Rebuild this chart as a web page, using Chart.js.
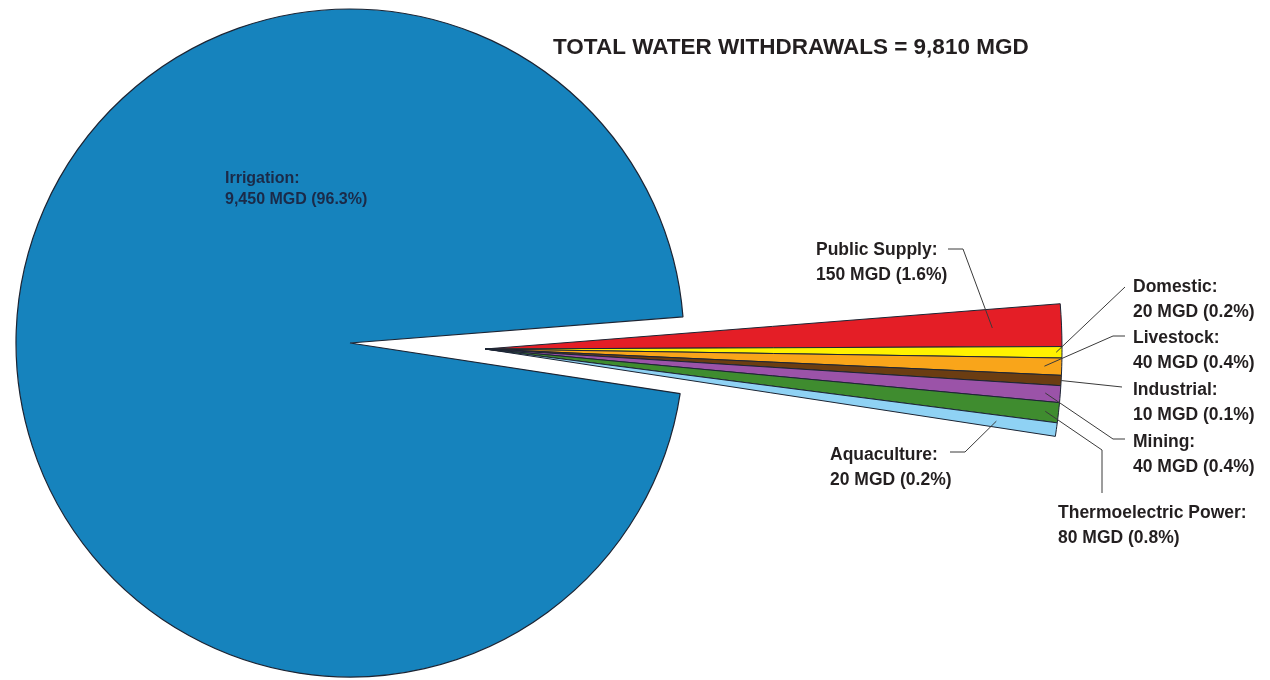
<!DOCTYPE html>
<html><head><meta charset="utf-8">
<script src="https://cdn.jsdelivr.net/npm/chart.js@4.4.1/dist/chart.umd.min.js"></script>
<style>
html,body{margin:0;padding:0;background:#fff;overflow:hidden}
#wrap{position:relative;width:1270px;height:680px}
canvas{position:absolute;left:0;top:0}
</style></head>
<body><div id="wrap"><canvas id="main" width="1270" height="680"></canvas><canvas id="wedge" width="1270" height="680"></canvas></div>
<script>
// ---- data ----
const titleText = 'TOTAL WATER WITHDRAWALS = 9,810 MGD';
const totalMGD = 9810;
const irrigationLabel = 'Irrigation';
const irrigationMGD = 9450;
const irrigationPct = 96.3;
const categories = ['Public Supply', 'Domestic', 'Livestock', 'Industrial', 'Mining', 'Thermoelectric Power', 'Aquaculture'];
const withdrawalsMGD = [150, 20, 40, 10, 40, 80, 20];
const percentOfTotal = [1.6, 0.2, 0.4, 0.1, 0.4, 0.8, 0.2];
// relative slice widths as drawn in the exploded wedge (small uses are exaggerated in the original); sum = other uses total
const drawnWidth = [116, 31, 47, 28, 46, 55, 37];
const sliceColors = ['#e41e26', '#fff200', '#f9a51a', '#6b3d12', '#9b53a8', '#3f8c2f', '#8fd2f4'];
const irrigationColor = '#1683bd';

const FONT = '"Liberation Sans", Arial, sans-serif';
const EDGE = '#1c2433';
const otherMGD = totalMGD - irrigationMGD;
const ROT = 85.5;

const baseOptions = {
  responsive: false, devicePixelRatio: 1, animation: false, events: [],
  plugins: { legend: { display: false }, tooltip: { enabled: false }, title: { display: false } }
};

new Chart(document.getElementById('main'), {
  type: 'pie',
  data: {
    labels: ['Other uses', irrigationLabel],
    datasets: [{
      data: [otherMGD, irrigationMGD],
      backgroundColor: ['rgba(0,0,0,0)', irrigationColor],
      borderColor: EDGE,
      borderWidth: [0, 1.2],
      clip: false
    }]
  },
  options: Object.assign({}, baseOptions, {
    rotation: ROT,
    radius: 334,
    layout: { padding: { left: 0, right: 570, top: 6, bottom: 0 } }
  })
});

// label layout: anchor fraction of radius, leader-line bends, text position
const labelLayout = [
  { k: 0.88, pts: [[963, 249], [948, 249]], x: 816, y: 255 },
  { k: 0.99, pts: [[1125, 287]], x: 1133, y: 292 },
  { k: 0.97, pts: [[1113, 336], [1125, 336]], x: 1133, y: 343 },
  { k: 1.0, pts: [[1122, 387]], x: 1133, y: 395 },
  { k: 0.974, pts: [[1113, 439], [1125, 439]], x: 1133, y: 447 },
  { k: 0.977, pts: [[1102, 450], [1102, 493]], x: 1058, y: 518 },
  { k: 0.895, pts: [[965, 452], [950, 452]], x: 830, y: 460 }
];

const labelPlugin = {
  id: 'labels',
  afterDraw(chart) {
    const ctx = chart.ctx;
    const meta = chart.getDatasetMeta(0);
    ctx.save();
    ctx.fillStyle = '#231f20';
    ctx.font = 'bold 22.5px ' + FONT;
    ctx.textBaseline = 'alphabetic';
    ctx.textAlign = 'left';
    ctx.fillText(titleText, 553, 54);
    ctx.fillStyle = '#1b2a48';
    ctx.font = 'bold 16px ' + FONT;
    ctx.fillText(irrigationLabel + ':', 225, 183);
    ctx.fillText(irrigationMGD.toLocaleString('en-US') + ' MGD (' + irrigationPct.toFixed(1) + '%)', 225, 204);
    categories.forEach((cat, i) => {
      const arc = meta.data[i];
      const p = arc.getProps(['x', 'y', 'startAngle', 'endAngle', 'outerRadius'], true);
      const mid = (p.startAngle + p.endAngle) / 2;
      const L = labelLayout[i];
      const ax = p.x + Math.cos(mid) * p.outerRadius * L.k;
      const ay = p.y + Math.sin(mid) * p.outerRadius * L.k;
      ctx.strokeStyle = '#3a3a3a';
      ctx.lineWidth = 1;
      ctx.beginPath();
      ctx.moveTo(ax, ay);
      L.pts.forEach(q => ctx.lineTo(q[0], q[1]));
      ctx.stroke();
      ctx.fillStyle = '#231f20';
      ctx.font = 'bold 17.5px ' + FONT;
      ctx.fillText(cat + ':', L.x, L.y);
      ctx.fillText(withdrawalsMGD[i] + ' MGD (' + percentOfTotal[i].toFixed(1) + '%)', L.x, L.y + 25);
    });
    ctx.restore();
  }
};

new Chart(document.getElementById('wedge'), {
  type: 'pie',
  data: {
    labels: categories.concat([irrigationLabel]),
    datasets: [{
      data: drawnWidth.concat([irrigationMGD]),
      backgroundColor: sliceColors.concat(['rgba(0,0,0,0)']),
      borderColor: EDGE,
      borderWidth: drawnWidth.map(() => 1).concat([0]),
      clip: false
    }]
  },
  options: Object.assign({}, baseOptions, {
    rotation: ROT,
    radius: 577,
    layout: { padding: { left: 0, right: 300, top: 18, bottom: 0 } }
  }),
  plugins: [labelPlugin]
});
</script>
</body></html>
